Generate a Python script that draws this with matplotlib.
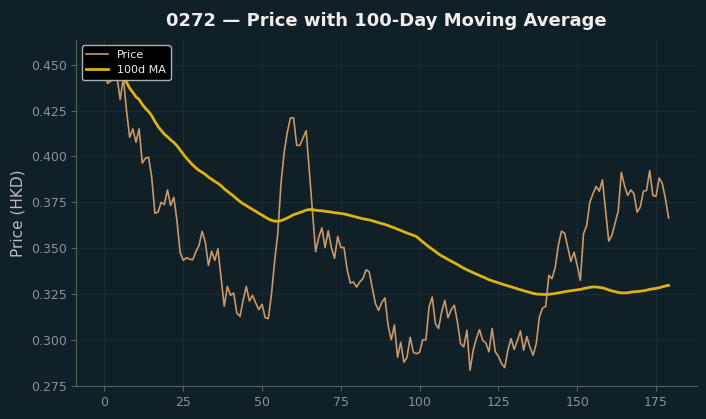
import matplotlib
matplotlib.use("Agg")
from matplotlib import pyplot as plt
import numpy as np
import pandas as pd

# closing prices, one per trading day
price = [
    0.446, 0.4398, 0.441, 0.455, 0.443, 0.431, 0.443, 0.425, 0.4104, 0.415,
    0.4077, 0.415, 0.3963, 0.399, 0.3995, 0.3886, 0.369, 0.3696, 0.375, 0.3737,
    0.3817, 0.3732, 0.3777, 0.365, 0.3478, 0.3433, 0.3447, 0.344, 0.3436, 0.348,
    0.3514, 0.3592, 0.3532, 0.3405, 0.3483, 0.3433, 0.3496, 0.334, 0.3182, 0.3291,
    0.3242, 0.3255, 0.3146, 0.3127, 0.3215, 0.3291, 0.3211, 0.3242, 0.320, 0.3164,
    0.3193, 0.312, 0.3115, 0.325, 0.343, 0.358, 0.385, 0.402, 0.413, 0.421,
    0.421, 0.406, 0.406, 0.410, 0.414, 0.392, 0.370, 0.348, 0.3559, 0.361,
    0.3503, 0.3595, 0.3503, 0.3444, 0.3563, 0.3503, 0.3503, 0.3383, 0.3309, 0.3315,
    0.3287, 0.3315, 0.3333, 0.3382, 0.337, 0.328, 0.3196, 0.316, 0.3204, 0.3228,
    0.3077, 0.300, 0.308, 0.2904, 0.2986, 0.2877, 0.2904, 0.3013, 0.2932, 0.2923,
    0.2932, 0.300, 0.300, 0.318, 0.3233, 0.3088, 0.3061, 0.3152, 0.3215, 0.312,
    0.3164, 0.3188, 0.3097, 0.2979, 0.2961, 0.3052, 0.2834, 0.2943, 0.3006, 0.3055,
    0.2997, 0.2983, 0.2934, 0.3061, 0.2934, 0.291, 0.287, 0.2848, 0.2943, 0.3006,
    0.2947, 0.2995, 0.3048, 0.2942, 0.3018, 0.296, 0.2915, 0.2978, 0.3124, 0.3173,
    0.3182, 0.3351, 0.3333, 0.3393, 0.3514, 0.3592, 0.3581, 0.3505, 0.3427, 0.3478,
    0.3405, 0.3324, 0.3578, 0.3623, 0.375, 0.3796, 0.3836, 0.381, 0.3872, 0.3704,
    0.3538, 0.3569, 0.3636, 0.3701, 0.3913, 0.3841, 0.3787, 0.3817, 0.3796, 0.3696,
    0.3723, 0.381, 0.3814, 0.3922, 0.3787, 0.3782, 0.3882, 0.3851, 0.3769, 0.3664,
]
ticker = "0272"
ma_window = 100

bg = "#111f26"
s = pd.Series(price)
ma = s.rolling(ma_window, min_periods=1).mean()
days = np.arange(len(price))

fig = plt.figure(figsize=(7.06, 4.19), dpi=100, facecolor=bg)
ax = fig.add_axes([0.108, 0.079, 0.879, 0.826], facecolor=bg)

ax.plot(days, s, color="#c9986a", lw=1.2, label="Price")
ax.plot(days, ma, color="#dcb216", lw=2.0, label="100d MA")

ax.set_title(f"{ticker} \u2014 Price with 100-Day Moving Average",
             color="#eeeeee", fontsize=13, fontweight="bold", pad=10)
ax.set_ylabel("Price (HKD)", color="#b8bcbf", fontsize=11)

ax.grid(True, color="#1c2b33", lw=0.8)
ax.set_axisbelow(True)
for side in ("top", "right"):
    ax.spines[side].set_visible(False)
for side in ("left", "bottom"):
    ax.spines[side].set_color("#55605f")
ax.tick_params(colors="#55605f", labelcolor="#8a9397", labelsize=9)
ax.yaxis.set_major_formatter(matplotlib.ticker.FormatStrFormatter("%.3f"))

leg = ax.legend(loc="upper left", fontsize=8, facecolor="black",
                edgecolor="#b0b0b0", framealpha=1.0)
for t in leg.get_texts():
    t.set_color("#eeeeee")

fig.savefig("out.png", dpi=100, facecolor=bg)
